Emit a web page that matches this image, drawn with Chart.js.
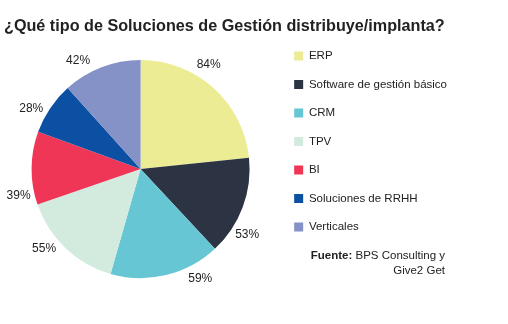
<!DOCTYPE html>
<html>
<head>
<meta charset="utf-8">
<script src="https://cdn.jsdelivr.net/npm/chart.js@4/dist/chart.umd.min.js"></script>
<style>
  html, body { margin: 0; padding: 0; background: #ffffff; }
  #wrap { position: relative; width: 508px; height: 324px; }
</style>
</head>
<body>
<div id="wrap"><canvas id="pieChart"></canvas></div>
<script>
// Data
const categories = ["ERP", "Software de gestión básico", "CRM", "TPV", "BI", "Soluciones de RRHH", "Verticales"];
const percentages = [84, 53, 59, 55, 39, 28, 42];

const sliceColors = ["#ebec94", "#2c3443", "#67c6d3", "#d3ebdf", "#ef3656", "#0b50a3", "#8592c8"];
const textColor = "#222222";

// Percent labels around the pie (angle nudge in degrees, like the original's placement)
const pctLabels = {
    id: "pctLabels",
    afterDatasetsDraw(chart, args, opts) {
        const ctx = chart.ctx;
        const meta = chart.getDatasetMeta(0);
        ctx.save();
        ctx.font = "12px 'Liberation Sans', Arial, sans-serif";
        ctx.fillStyle = textColor;
        ctx.textAlign = "center";
        ctx.textBaseline = "middle";
        meta.data.forEach((arc, i) => {
            const p = arc.getProps(["x", "y", "startAngle", "endAngle", "outerRadius"], true);
            const a = (p.startAngle + p.endAngle) / 2 + (opts.nudge[i] || 0) * Math.PI / 180;
            const r = p.outerRadius + opts.offset;
            ctx.fillText(chart.data.datasets[0].data[i] + "%", p.x + r * Math.cos(a), p.y + r * Math.sin(a));
        });
        ctx.restore();
    }
};

// Source note, bottom right
const sourceNote = {
    id: "sourceNote",
    afterDraw(chart) {
        const ctx = chart.ctx;
        const right = 445;
        ctx.save();
        ctx.fillStyle = textColor;
        ctx.textAlign = "right";
        ctx.textBaseline = "alphabetic";
        ctx.font = "11.5px 'Liberation Sans', Arial, sans-serif";
        const rest = " BPS Consulting y";
        ctx.fillText(rest, right, 259);
        const w = ctx.measureText(rest).width;
        ctx.font = "bold 11.5px 'Liberation Sans', Arial, sans-serif";
        ctx.fillText("Fuente:", right - w, 259);
        ctx.font = "11.5px 'Liberation Sans', Arial, sans-serif";
        ctx.fillText("Give2 Get", right, 274);
        ctx.restore();
    }
};

const ctx = document.getElementById("pieChart").getContext("2d");
const pieChart = new Chart(ctx, {
    type: "pie",
    data: {
        labels: categories,
        datasets: [
            {
                data: percentages,
                backgroundColor: sliceColors,
                borderWidth: 0,
                radius: 109,
            },
        ],
    },
    options: {
        responsive: true,
        maintainAspectRatio: false,
        animation: false,
        layout: {
            padding: { left: 4, right: 51, top: 0, bottom: 19 }
        },
        plugins: {
            title: {
                display: true,
                text: "¿Qué tipo de Soluciones de Gestión distribuye/implanta?",
                align: "start",
                color: textColor,
                font: { family: "'Liberation Sans', Arial, sans-serif", size: 16.2, weight: "bold", lineHeight: 1 },
                padding: { top: 18, bottom: -1 }
            },
            legend: {
                display: true,
                position: "right",
                align: "start",
                fullSize: false,
                labels: {
                    color: textColor,
                    font: { family: "'Liberation Sans', Arial, sans-serif", size: 11.5 },
                    boxWidth: 9,
                    boxHeight: 9,
                    padding: 17
                }
            },
            tooltip: { enabled: false },
            pctLabels: {
                offset: 16,
                nudge: [-9, 11, -15, 7, -13, -5, -9]
            }
        },
    },
    plugins: [pctLabels, sourceNote]
});
</script>
</body>
</html>
